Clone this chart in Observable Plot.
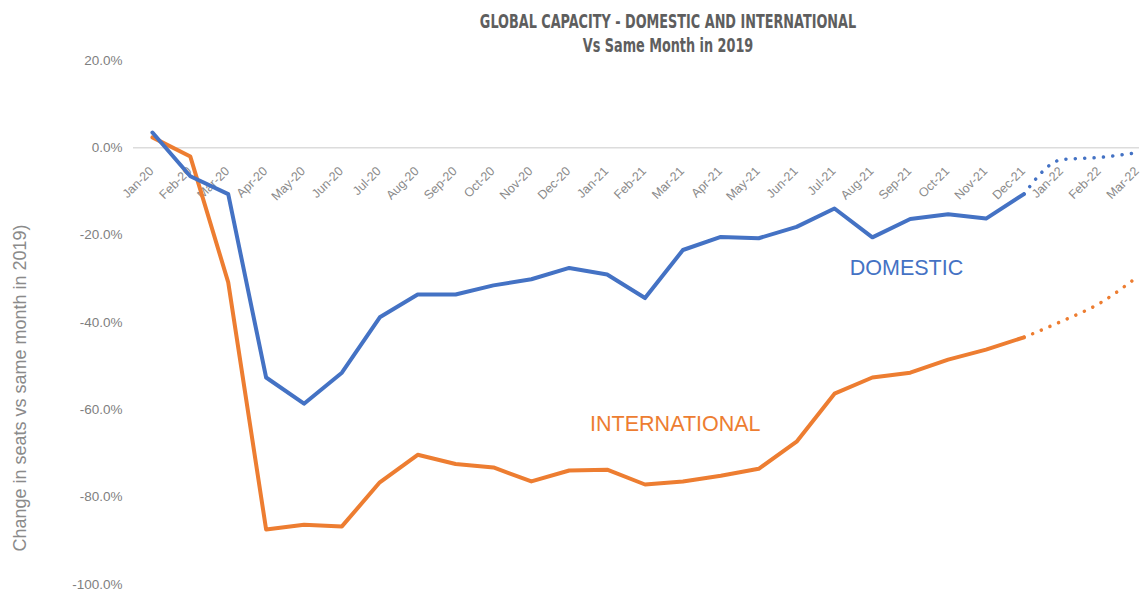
<!DOCTYPE html>
<html>
<head>
<meta charset="utf-8">
<script src="https://cdn.jsdelivr.net/npm/d3@7"></script>
<script src="https://cdn.jsdelivr.net/npm/@observablehq/plot@0.6"></script>
<style>
  html, body { margin: 0; padding: 0; background: #ffffff; }
  #wrap { position: relative; width: 1148px; height: 592px; overflow: hidden; }
  #title { position: absolute; left: 94px; top: 10px; width: 1148px; text-align: center;
           font-family: "DejaVu Sans Condensed", "Liberation Sans Narrow", "Roboto", sans-serif;
           font-stretch: condensed; font-weight: bold; color: #5e5e5e; font-size: 19px; line-height: 23.5px;
           transform: scaleX(0.75); transform-origin: 50% 0; }
  #chart { position: absolute; left: 0; top: 0; }
</style>
</head>
<body>
<div id="wrap">
  <div id="chart"></div>
  <div id="title">
    <div>GLOBAL CAPACITY - DOMESTIC AND INTERNATIONAL</div>
    <div>Vs Same Month in 2019</div>
  </div>
</div>
<script>
// ---- data ----
const months = ["Jan-20","Feb-20","Mar-20","Apr-20","May-20","Jun-20","Jul-20","Aug-20","Sep-20","Oct-20","Nov-20","Dec-20",
                "Jan-21","Feb-21","Mar-21","Apr-21","May-21","Jun-21","Jul-21","Aug-21","Sep-21","Oct-21","Nov-21","Dec-21",
                "Jan-22","Feb-22","Mar-22"];
// actuals, Jan-20 .. Dec-21 (% change vs same month in 2019)
const domestic = [3.5, -6.5, -10.6, -52.6, -58.6, -51.5, -38.8, -33.6, -33.6, -31.5, -30.1, -27.5,
                  -29.0, -34.4, -23.4, -20.4, -20.7, -18.1, -13.9, -20.5, -16.3, -15.2, -16.2, -10.6];
const international = [2.4, -2.0, -30.8, -87.4, -86.3, -86.7, -76.6, -70.3, -72.4, -73.2, -76.4, -73.9,
                       -73.7, -77.1, -76.4, -75.1, -73.5, -67.3, -56.3, -52.6, -51.5, -48.5, -46.2, -43.4];
// forecast (dotted), Dec-21 .. Mar-22
const forecastMonths = ["Dec-21","Jan-22","Feb-22","Mar-22"];
const domesticForecast = [-10.6, -2.7, -2.2, -1.1];
const internationalForecast = [-43.4, -39.7, -35.6, -29.5];
// axis ticks
const yTicks = [20, 0, -20, -40, -60, -80, -100];
const yLabel = "Change in seats vs same month in 2019)";
// in-chart series labels (month position, value position)
const seriesNames = ["DOMESTIC", "INTERNATIONAL"];
const seriesLabelX = [19.9, 13.8];
const seriesLabelY = [-27.6, -63.2];
// y position of the axis-title centre (in value units)
const yLabelAt = -55;

const BLUE = "#4472C4";
const ORANGE = "#ED7D31";

// ---- tables built from the arrays ----
const idx = m => months.indexOf(m);
const domRows = domestic.map((v, i) => ({i, v}));
const intRows = international.map((v, i) => ({i, v}));
const domFc = domesticForecast.map((v, k) => ({i: idx(forecastMonths[k]), v}));
const intFc = internationalForecast.map((v, k) => ({i: idx(forecastMonths[k]), v}));
const labels = seriesNames.map((t, k) => ({t, x: seriesLabelX[k], y: seriesLabelY[k]}));

const FONT = "'Liberation Sans', Arial, Helvetica, sans-serif";

const chart = Plot.plot({
  width: 1148,
  height: 592,
  marginLeft: 133,
  marginRight: 9,
  marginTop: 60,
  marginBottom: 8,
  style: {fontFamily: FONT, background: "transparent"},
  x: {type: "linear", domain: [-0.5, 26.05], axis: null},
  y: {domain: [-100, 20], axis: null},
  marks: [
    Plot.ruleY([0], {stroke: "#dcdcdc", strokeWidth: 1.5}),
    Plot.axisY(yTicks, {tickSize: 0, tickPadding: 11, fontSize: 13.5, fill: "#7f7f7f",
                        tickFormat: d => d.toFixed(1) + "%", label: null}),
    Plot.text(months, {x: (d, i) => i, y: 0, text: d => d, rotate: -45, textAnchor: "end",
                       lineAnchor: "bottom", dx: 2, dy: 24, fontSize: 12.5, fill: "#8a8a8a"}),
    Plot.text([yLabel], {frameAnchor: "left", y: [yLabelAt], rotate: -90, textAnchor: "middle",
                         dx: -113, fontSize: 18, fill: "#8a8a8a"}),
    Plot.line(domFc, {x: "i", y: "v", stroke: BLUE, strokeWidth: 3.5, strokeDasharray: "0.1 9.3",
                      strokeLinecap: "round", curve: "monotone-x"}),
    Plot.line(intFc, {x: "i", y: "v", stroke: ORANGE, strokeWidth: 3.5, strokeDasharray: "0.1 9.3",
                      strokeLinecap: "round", curve: "monotone-x"}),
    Plot.line(intRows, {x: "i", y: "v", stroke: ORANGE, strokeWidth: 4, strokeLinejoin: "round"}),
    Plot.line(domRows, {x: "i", y: "v", stroke: BLUE, strokeWidth: 4, strokeLinejoin: "round"}),
    Plot.text(labels, {x: "x", y: "y", text: "t", fontSize: 21.5,
                       fill: (d) => d.t === "DOMESTIC" ? BLUE : ORANGE})
  ]
});
document.getElementById("chart").appendChild(chart);
</script>
</body>
</html>
